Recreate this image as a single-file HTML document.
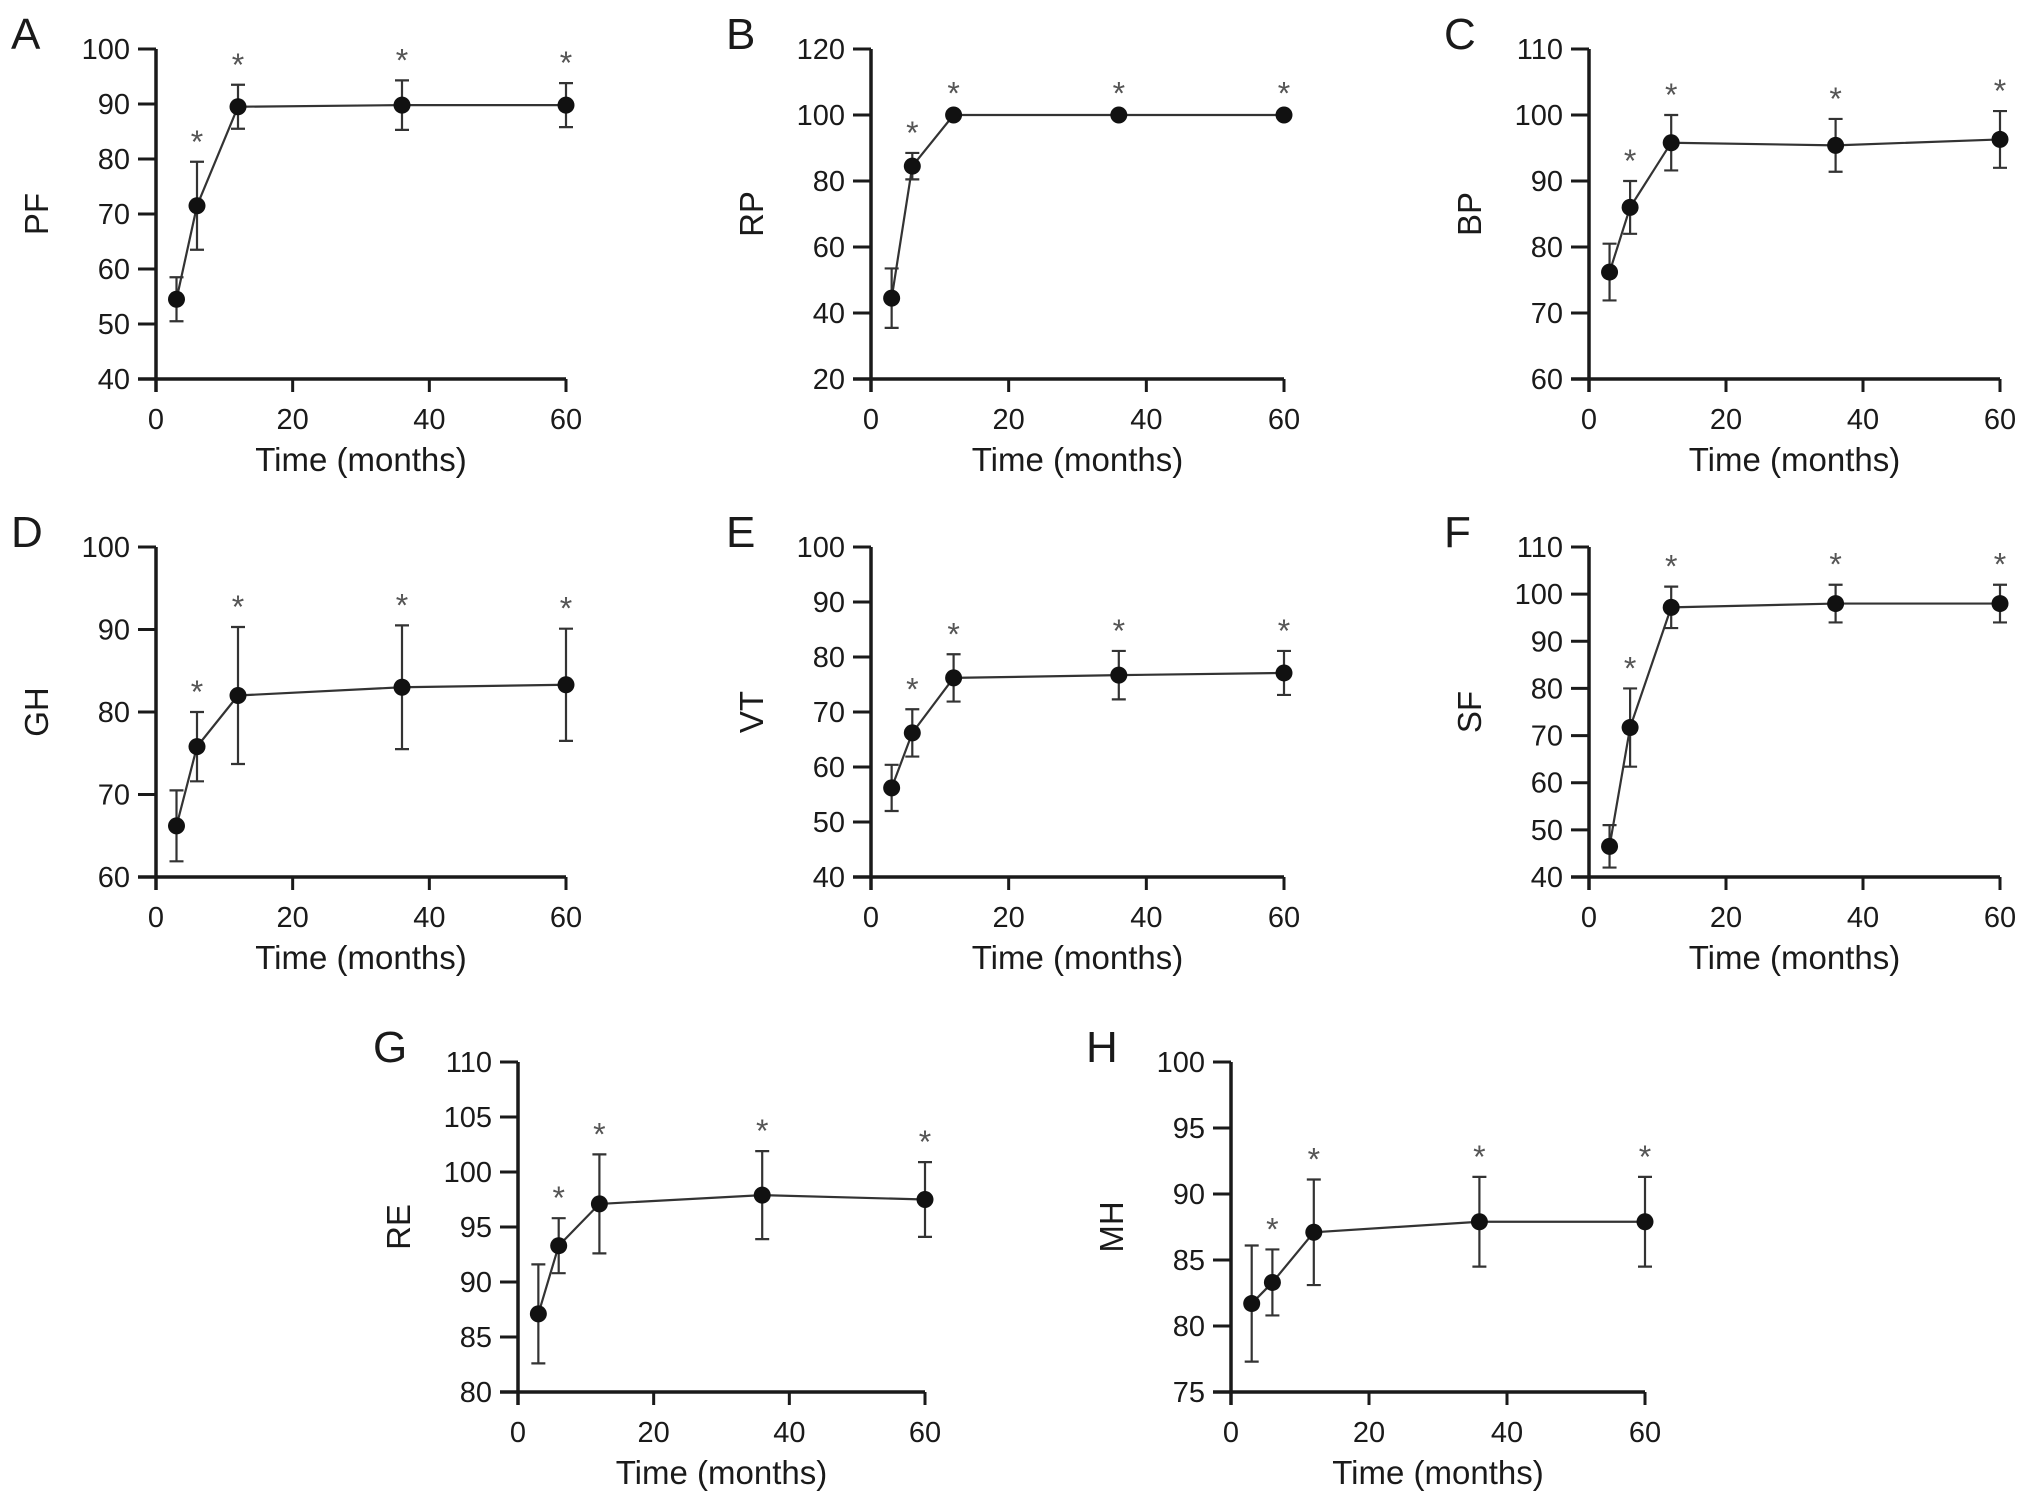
<!DOCTYPE html>
<html><head><meta charset="utf-8"><style>
html,body{margin:0;padding:0;background:#fff}
svg{display:block}
text{font-family:"Liberation Sans",Arial,sans-serif;fill:#1a1a1a}
</style></head><body>
<svg id="fig" width="2032" height="1502" viewBox="0 0 2032 1502" xmlns="http://www.w3.org/2000/svg"></svg>
<script>
const months = [3, 6, 12, 36, 60];
const xTicks = [0, 20, 40, 60];
const pfMean = [54.5, 71.5, 89.5, 89.8, 89.8];
const pfErr = [4, 8, 4, 4.5, 4];
const rpMean = [44.5, 84.5, 100, 100, 100];
const rpErr = [9, 4, 0.5, 0.5, 0.5];
const bpMean = [76.2, 86, 95.8, 95.4, 96.3];
const bpErr = [4.3, 4, 4.2, 4, 4.3];
const ghMean = [66.2, 75.8, 82, 83, 83.3];
const ghErr = [4.3, 4.2, 8.3, 7.5, 6.8];
const vtMean = [56.2, 66.2, 76.2, 76.7, 77.1];
const vtErr = [4.2, 4.3, 4.3, 4.4, 4];
const sfMean = [46.5, 71.7, 97.2, 98, 98];
const sfErr = [4.5, 8.3, 4.4, 4, 4];
const reMean = [87.1, 93.3, 97.1, 97.9, 97.5];
const reErr = [4.5, 2.5, 4.5, 4, 3.4];
const mhMean = [81.7, 83.3, 87.1, 87.9, 87.9];
const mhErr = [4.4, 2.5, 4, 3.4, 3.4];
const pfTicks = [40, 50, 60, 70, 80, 90, 100];
const rpTicks = [20, 40, 60, 80, 100, 120];
const bpTicks = [60, 70, 80, 90, 100, 110];
const ghTicks = [60, 70, 80, 90, 100];
const vtTicks = [40, 50, 60, 70, 80, 90, 100];
const sfTicks = [40, 50, 60, 70, 80, 90, 100, 110];
const reTicks = [80, 85, 90, 95, 100, 105, 110];
const mhTicks = [75, 80, 85, 90, 95, 100];

const panels = [
 {id:'a',letter:'A',label:'PF',mean:pfMean,err:pfErr,ticks:pfTicks,x0:156,x1:566,y0:49,y1:379},
 {id:'b',letter:'B',label:'RP',mean:rpMean,err:rpErr,ticks:rpTicks,x0:871,x1:1284,y0:49,y1:379},
 {id:'c',letter:'C',label:'BP',mean:bpMean,err:bpErr,ticks:bpTicks,x0:1589,x1:2000,y0:49,y1:379},
 {id:'d',letter:'D',label:'GH',mean:ghMean,err:ghErr,ticks:ghTicks,x0:156,x1:566,y0:547,y1:877},
 {id:'e',letter:'E',label:'VT',mean:vtMean,err:vtErr,ticks:vtTicks,x0:871,x1:1284,y0:547,y1:877},
 {id:'f',letter:'F',label:'SF',mean:sfMean,err:sfErr,ticks:sfTicks,x0:1589,x1:2000,y0:547,y1:877},
 {id:'g',letter:'G',label:'RE',mean:reMean,err:reErr,ticks:reTicks,x0:518,x1:925,y0:1062,y1:1392},
 {id:'h',letter:'H',label:'MH',mean:mhMean,err:mhErr,ticks:mhTicks,x0:1231,x1:1645,y0:1062,y1:1392}
];
const NS='http://www.w3.org/2000/svg';
const svg=document.getElementById('fig');
function mk(tag,parent,attrs){const e=document.createElementNS(NS,tag);for(const k in attrs)e.setAttribute(k,attrs[k]);parent.appendChild(e);return e;}

panels.forEach(p=>{
 const g=mk('g',svg,{});
 
 
 const ymin=p.ticks[0], ymax=p.ticks[p.ticks.length-1];
 const xs=v=>p.x0+(v-xTicks[0])/(xTicks[xTicks.length-1]-xTicks[0])*(p.x1-p.x0);
 const ys=v=>p.y1-(v-ymin)/(ymax-ymin)*(p.y1-p.y0);
 const ya=mk('line',g,{x1:p.x0,y1:p.y0,x2:p.x0,y2:p.y1+13,stroke:'#1a1a1a','stroke-width':3.5});
 
 
 const xa=mk('line',g,{x1:p.x0-18,y1:p.y1,x2:p.x1,y2:p.y1,stroke:'#1a1a1a','stroke-width':3.5});
 
 
 p.ticks.forEach(t=>{
  const y=ys(t);
  mk('line',g,{x1:p.x0-18,y1:y,x2:p.x0,y2:y,stroke:'#1a1a1a','stroke-width':3});
  const tx=mk('text',g,{x:p.x0-26,y:y+10,'text-anchor':'end','font-size':29});
  tx.textContent=t;
  
  
 });
 xTicks.forEach(t=>{
  const x=xs(t);
  mk('line',g,{x1:x,y1:p.y1,x2:x,y2:p.y1+13,stroke:'#1a1a1a','stroke-width':3});
  const tx=mk('text',g,{x:x,y:p.y1+50,'text-anchor':'middle','font-size':29});
  tx.textContent=t;
  
  
 });
 const xt=mk('text',g,{x:(p.x0+p.x1)/2,y:p.y1+92,'text-anchor':'middle','font-size':33});
 xt.textContent='Time (months)';
 
 
 const cy=(p.y0+p.y1)/2;
 const yt=mk('text',g,{x:p.x0-108,y:cy,'text-anchor':'middle','font-size':33,transform:'rotate(-90 '+(p.x0-108)+' '+cy+')'});
 yt.textContent=p.label;
 
 
 const lt=mk('text',g,{x:p.x0-145,y:p.y0+0,'font-size':44});
 lt.textContent=p.letter;
 
 
 const pts=months.map((m,i)=>xs(m)+','+ys(p.mean[i])).join(' ');
 const pl=mk('polyline',g,{points:pts,fill:'none',stroke:'#333','stroke-width':2.2});
 
 
 months.forEach((m,i)=>{
  const x=xs(m), yt2=ys(p.mean[i]+p.err[i]), yb=ys(p.mean[i]-p.err[i]);
  const eb=mk('path',g,{d:'M'+x+','+yt2+'V'+yb+'M'+(x-7)+','+yt2+'H'+(x+7)+'M'+(x-7)+','+yb+'H'+(x+7),stroke:'#333','stroke-width':2.2,fill:'none'});
  
  
  const c=mk('circle',g,{cx:x,cy:ys(p.mean[i]),r:8.5,fill:'#111'});
  
  
  if(i>0){
   const s=mk('text',g,{x:x,y:yt2-9,'text-anchor':'middle','font-size':32,style:'fill:#555'});
   s.textContent='*';
   
   
  }
 });
});
</script>
</body></html>
